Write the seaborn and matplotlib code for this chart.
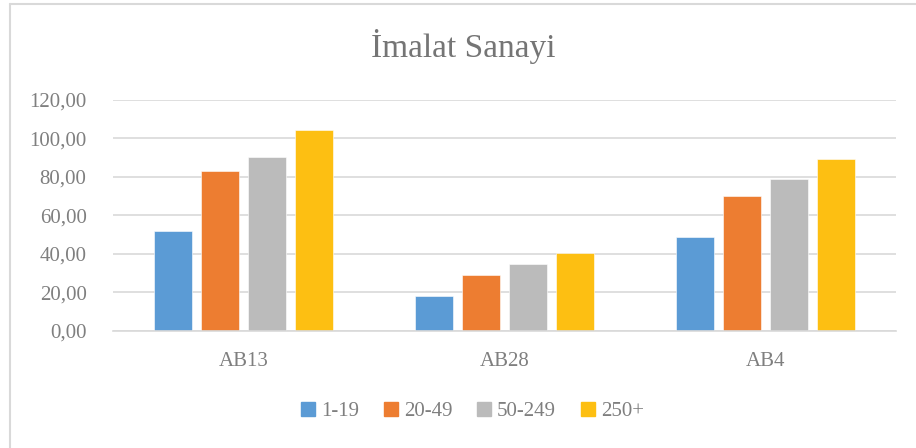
import pandas as pd
import matplotlib.pyplot as plt
import seaborn as sns
from matplotlib.lines import Line2D

# Chart values
categories = ['AB13', 'AB28', 'AB4']
groups = ['1-19', '20-49', '50-249', '250+']
v_1_19 = [51.8, 17.8, 48.9]
v_20_49 = [83.3, 29.0, 69.9]
v_50_249 = [90.6, 34.9, 78.9]
v_250 = [104.5, 40.4, 89.4]
colors = ['#5B9BD5', '#ED7D31', '#BBBBBB', '#FDBF12']
y_ticks = [0, 20, 40, 60, 80, 100, 120]

# Long-form table for seaborn
rows = []
for g, vals in zip(groups, [v_1_19, v_20_49, v_50_249, v_250]):
    for c, v in zip(categories, vals):
        rows.append({'kategori': c, 'grup': g, 'deger': v})
df = pd.DataFrame(rows)

sns.set_theme(style='white')
plt.rcParams['font.family'] = ['Liberation Serif', 'DejaVu Serif']
text_gray = '#7F7F7F'
grid_gray = '#D9D9D9'

fig = plt.figure(figsize=(9.16, 4.48), dpi=100)
ax = fig.add_axes([113 / 916, 117.3 / 448, 783 / 916, 230.7 / 448])

sns.barplot(data=df, x='kategori', y='deger', hue='grup', order=categories,
            hue_order=groups, palette=colors, saturation=1, width=0.72, gap=0.19,
            edgecolor='white', linewidth=0.4, ax=ax, legend=False)

ax.set_ylim(0, 120)
ax.set_xlim(-0.5, 2.5)
ax.set_yticks(y_ticks)
ax.set_yticklabels([f'{t:.2f}'.replace('.', ',') for t in y_ticks])
ax.yaxis.grid(True, color=grid_gray, linewidth=1.2)
ax.set_axisbelow(True)
for s in ['top', 'right', 'left']:
    ax.spines[s].set_visible(False)
ax.spines['bottom'].set_color(grid_gray)
ax.spines['bottom'].set_linewidth(1.2)
ax.tick_params(axis='y', length=0, pad=19, labelsize=15, labelcolor=text_gray)
ax.tick_params(axis='x', length=0, pad=15, labelsize=15, labelcolor=text_gray)
ax.set_xlabel('')
ax.set_ylabel('')

fig.text(463 / 916, 1 - 47 / 448, 'İmalat Sanayi', ha='center', va='center',
         fontsize=24, color='#757575')

handles = [Line2D([0], [0], marker='s', linestyle='', markersize=10,
                  markerfacecolor=c, markeredgecolor=c) for c in colors]
fig.legend(handles, groups, loc='center', bbox_to_anchor=(0.514, 1 - 411 / 448),
           ncol=4, frameon=False, fontsize=15, labelcolor=text_gray,
           handletextpad=0.1, columnspacing=1.05, handlelength=1.0)

# outer chart border (top and left edges visible)
fig.add_artist(Line2D([10 / 916, 10 / 916], [0, 1 - 4 / 448], transform=fig.transFigure,
                      color=grid_gray, linewidth=1.5))
fig.add_artist(Line2D([10 / 916, 1], [1 - 4 / 448, 1 - 4 / 448], transform=fig.transFigure,
                      color=grid_gray, linewidth=1.5))

fig.savefig('out.png', dpi=100, facecolor='white')
